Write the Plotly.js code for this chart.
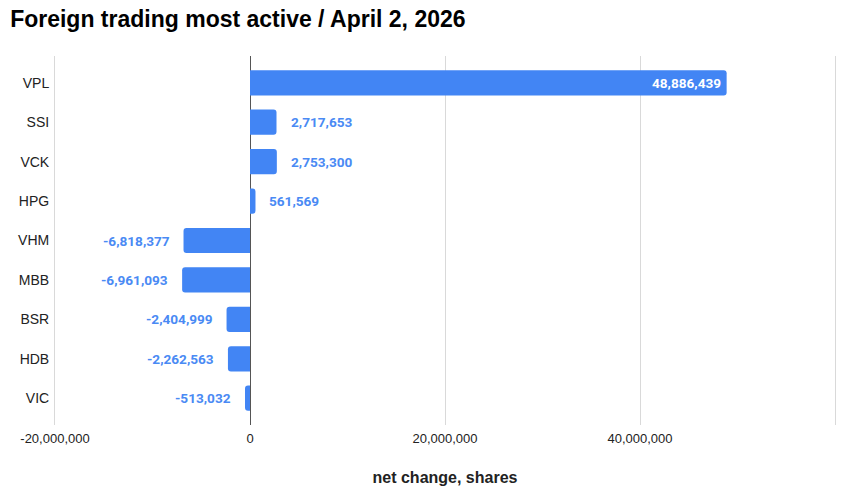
<!DOCTYPE html>
<html><head><meta charset="utf-8">
<script src="https://cdn.plot.ly/plotly-3.0.1.min.js"></script>
<style>html,body{margin:0;padding:0;background:#fff}#chart{width:845px;height:492px}</style>
</head><body><div id="chart"></div>
<script>
const tickers = ["VPL","SSI","VCK","HPG","VHM","MBB","BSR","HDB","VIC"];
const netChange = [48886439, 2717653, 2753300, 561569, -6818377, -6961093, -2404999, -2262563, -513032];
const xTickVals = [-20000000, 0, 20000000, 40000000, 60000000];
const xTickText = ["-20,000,000","0","20,000,000","40,000,000",""];
const insideLabel = [true,false,false,false,false,false,false,false,false];

const fmt = v => (v<0?"-":"") + Math.abs(v).toLocaleString("en-US");
const barColor = "#4285f4";
const labelFont = "Roboto, Arial, sans-serif";

const annotations = tickers.map((t,i)=>{
  const v = netChange[i];
  if (insideLabel[i]) {
    return {x:v, y:t, xref:"x", yref:"y", text:fmt(v), showarrow:false,
      xanchor:"right", xshift:-4, font:{family:labelFont, size:13.6, color:"#ffffff", weight:"bold"}};
  }
  return {x:v, y:t, xref:"x", yref:"y", text:fmt(v), showarrow:false,
    xanchor: v>=0 ? "left":"right", xshift: v>=0 ? 12 : -12,
    font:{family:labelFont, size:13.6, color:"#4a8af4", weight:"bold"}};
});

const trace = {
  type:"bar", orientation:"h", x:netChange, y:tickers,
  marker:{color:barColor, cornerradius:3}, width:0.64,
  hoverinfo:"x+y"
};

const layout = {
  width:845, height:492,
  margin:{l:55, r:10, t:56, b:67},
  paper_bgcolor:"#fff", plot_bgcolor:"#fff",
  title:{text:"<b>Foreign trading most active / April 2, 2026</b>", x:0.012, xanchor:"left", y:0.962, yanchor:"middle",
    font:{family:"Liberation Sans, Arial, sans-serif", size:23, color:"#000"}},
  xaxis:{range:[-20000000,60000000], tickvals:xTickVals, ticktext:xTickText,
    showgrid:true, gridcolor:"#d9d9d9", gridwidth:1, zeroline:true, zerolinecolor:"#555", zerolinewidth:1,
    ticks:"", tickfont:{family:"Liberation Sans, Arial, sans-serif", size:13, color:"#222"},
    ticklabelstandoff:4,
    title:{text:"<b>net change, shares</b>", standoff:26, font:{family:"Liberation Sans, Arial, sans-serif", size:16, color:"#222"}},
    fixedrange:true},
  yaxis:{type:"category", range:[8.68,-0.68], showgrid:false, zeroline:false, ticks:"",
    showline:true, mirror:true, linecolor:"#d9d9d9", linewidth:1,
    tickfont:{family:"Liberation Sans, Arial, sans-serif", size:14, color:"#222"},
    ticklabelstandoff:2, fixedrange:true},
  annotations:annotations,
  showlegend:false,
  font:{family:"Liberation Sans, Arial, sans-serif"}
};

Plotly.newPlot("chart",[trace],layout,{displayModeBar:false, staticPlot:true});
</script></body></html>
